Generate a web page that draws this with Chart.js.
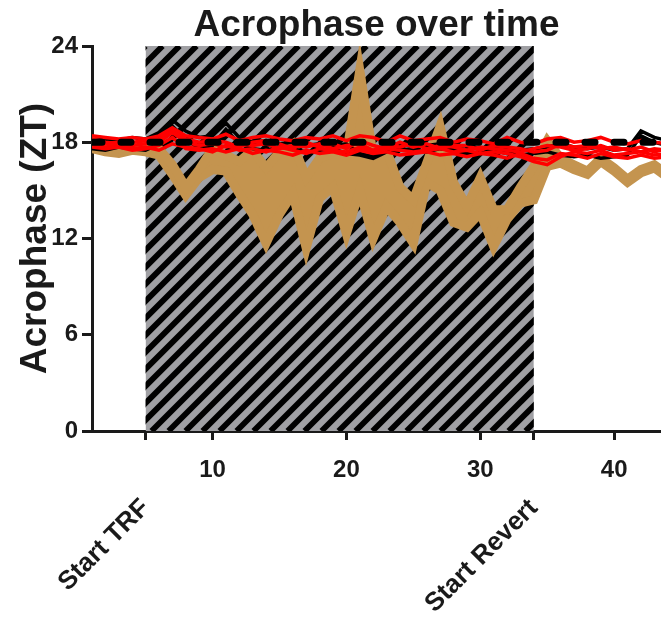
<!DOCTYPE html>
<html lang="en">
<head>
    <meta charset="UTF-8">
    <title>Acrophase over time</title>
    <script src="https://cdn.jsdelivr.net/npm/chart.js"></script>
    <style>
        body { margin: 0; background: #fff; }
        #wrap { width: 661px; height: 621px; }
    </style>
</head>
<body>
<div id="wrap">
    <canvas id="acrophase"></canvas>
</div>

<script>
    // days of the experiment
    const days = [1, 2, 3, 4, 5, 6, 7, 8, 9, 10, 11, 12, 13, 14, 15, 16, 17, 18, 19, 20, 21, 22,
        23, 24, 25, 26, 27, 28, 29, 30, 31, 32, 33, 34, 35, 36, 37, 38, 39, 40, 41, 42, 43, 44];

    // TRF group (tan), drawn as an upper and lower trace with the band between
    const tanUpper = [18.2, 17.9, 17.6, 17.8, 17.8, 17.6, 16.6, 15.2, 16.3, 17.6, 17.2, 16.8, 17.5, 16.4, 17.4,
        17.9, 15.8, 17.0, 17.3, 17.2, 22.5, 17.2, 17.5, 15.2, 14.4, 16.7, 19.0, 15.5, 14.0, 15.8, 13.8, 13.8,
        15.2, 16.5, 18.1, 17.0, 16.6, 16.2, 17.0, 16.4, 15.7, 16.3, 16.6, 16.0];
    const tanLower = [17.6, 17.4, 17.3, 17.5, 17.4, 17.2, 16.0, 14.7, 15.8, 16.3, 16.2, 14.8, 13.5, 11.7, 13.5,
        14.8, 11.4, 14.5, 15.2, 12.3, 15.0, 12.0, 14.0, 13.0, 11.7, 15.5, 15.0, 13.0, 12.7, 13.6, 11.5, 13.2,
        14.2, 14.4, 16.5, 16.7, 16.3, 16.0, 16.8, 16.2, 15.5, 16.1, 16.4, 15.8];

    // red group
    const red1 = [18.4, 18.3, 18.2, 18.3, 18.2, 18.4, 18.9, 18.4, 18.3, 18.2, 18.5, 18.1, 18.3, 18.4, 18.2,
        18.1, 18.3, 18.2, 18.4, 18.1, 18.4, 18.3, 18.0, 18.4, 18.1, 18.2, 18.3, 18.0, 18.2, 18.1, 17.9, 18.3,
        18.0, 17.9, 18.2, 18.3, 18.0, 18.1, 18.3, 18.0, 17.9, 18.1, 18.0, 17.9];
    const red2 = [18.0, 17.9, 18.0, 17.8, 17.9, 18.0, 18.6, 18.0, 17.8, 17.9, 17.7, 17.9, 17.8, 17.9, 17.6,
        17.8, 17.7, 17.9, 17.6, 17.8, 17.9, 17.5, 17.8, 17.7, 17.9, 17.6, 17.8, 17.7, 17.5, 17.7, 17.6, 17.5,
        17.4, 17.6, 17.8, 17.7, 17.5, 17.6, 17.8, 17.5, 17.6, 17.4, 17.6, 17.5];
    const red3 = [17.7, 17.6, 17.7, 17.5, 17.6, 17.8, 18.3, 17.6, 17.5, 17.6, 17.4, 17.6, 17.3, 17.5, 17.4,
        17.2, 17.5, 17.3, 17.4, 17.2, 17.5, 17.3, 17.4, 17.2, 17.3, 17.4, 17.2, 17.3, 17.1, 17.3, 17.2, 17.0,
        17.3, 17.0, 16.9, 17.3, 17.2, 17.0, 17.3, 17.1, 17.0, 17.2, 17.0, 17.1];
    const red4 = [17.9, 17.7, 17.8, 17.6, 17.7, 17.5, 17.9, 17.7, 17.6, 17.4, 17.8, 17.5, 17.6, 17.4, 17.7,
        17.5, 17.3, 17.6, 17.5, 17.4, 17.7, 17.4, 17.6, 17.5, 17.4, 17.5, 17.6, 17.4, 17.5, 17.3, 17.4, 17.3,
        17.1, 16.8, 16.6, 17.1, 17.4, 17.3, 17.5, 17.2, 17.3, 17.4, 17.2, 17.3];
    const red5 = [18.2, 18.0, 17.9, 18.0, 18.1, 18.2, 18.7, 18.2, 18.0, 18.1, 18.0, 17.7, 18.0, 18.1, 17.9,
        17.6, 18.0, 17.7, 17.9, 17.6, 18.1, 17.8, 17.6, 18.0, 17.7, 17.9, 17.6, 17.8, 17.8, 17.5, 17.8, 17.7,
        17.6, 17.4, 17.5, 17.9, 17.7, 17.8, 17.6, 17.7, 17.5, 17.7, 17.4, 17.6];

    // black group
    const black1 = [18.1, 18.2, 18.1, 18.3, 18.2, 18.6, 19.4, 18.7, 18.3, 18.4, 19.2, 18.3, 18.0, 18.1, 17.9,
        18.0, 17.8, 17.9, 17.8, 17.9, 17.3, 17.1, 17.8, 17.9, 17.7, 17.8, 17.9, 17.7, 17.8, 17.6, 17.7, 17.6,
        17.5, 17.6, 17.7, 17.9, 17.7, 17.6, 17.7, 17.5, 17.6, 18.7, 18.3, 18.1];
    const black2 = [17.6, 17.5, 17.7, 17.6, 17.5, 17.9, 19.0, 18.2, 17.6, 17.8, 18.8, 17.9, 17.6, 17.5, 17.7,
        17.6, 17.4, 17.5, 17.6, 17.3, 17.2, 17.0, 17.4, 17.6, 17.5, 17.4, 17.6, 17.5, 17.3, 17.4, 17.5, 17.3,
        17.2, 17.3, 17.4, 17.2, 17.1, 17.2, 17.0, 17.1, 17.2, 18.4, 18.0, 17.8];

    // ZT18 reference line
    const refDays = [1, 44];
    const refZT = [18, 18];

    // axis ticks / labels
    const yTicks = [0, 6, 12, 18, 24];
    const xTicks = [5, 10, 20, 30, 34, 40];
    const markerDays = [5, 34];
    const markerLabels = ['Start TRF', 'Start Revert'];

    const TAN = '#c4944f';
    const RED = '#ff0000';
    const INK = '#1a1a1a';
    const FONT = '"Liberation Sans", Arial, sans-serif';

    const pts = (xs, ys) => xs.map((d, i) => ({x: d, y: ys[i]}));

    function line(values, color, width) {
        return {
            data: pts(days, values),
            borderColor: color,
            borderWidth: width,
            pointRadius: 0,
            fill: false
        };
    }

    // grey hatched block for the TRF period
    const hatchPlugin = {
        id: 'hatch',
        beforeDatasetsDraw(chart) {
            const {ctx, scales: {x, y}} = chart;
            const left = x.getPixelForValue(markerDays[0]);
            const right = x.getPixelForValue(markerDays[1]);
            const top = y.getPixelForValue(24);
            const bottom = y.getPixelForValue(0);
            const h = bottom - top;
            ctx.save();
            ctx.beginPath();
            ctx.rect(left, top, right - left, h);
            ctx.clip();
            ctx.fillStyle = '#a0a0a4';
            ctx.fillRect(left, top, right - left, h);
            ctx.strokeStyle = '#000';
            ctx.lineWidth = 5.8;
            for (let s = left - h; s < right + 10; s += 17) {
                ctx.beginPath();
                ctx.moveTo(s, bottom);
                ctx.lineTo(s + h, top);
                ctx.stroke();
            }
            ctx.restore();
        }
    };

    const tanLowerSet = line(tanLower, TAN, 9);
    tanLowerSet.fill = '-1';
    tanLowerSet.backgroundColor = TAN;

    const refSet = {
        data: pts(refDays, refZT),
        borderColor: '#000',
        borderWidth: 7,
        borderDash: [10, 19],
        borderCapStyle: 'round',
        pointRadius: 0,
        fill: false
    };

    let elem = document.getElementById('acrophase').getContext('2d');
    let chart = new Chart(elem, {
        type: 'line',
        data: {
            // first dataset is drawn on top
            datasets: [
                refSet,
                line(red1, RED, 3.5),
                line(red5, RED, 3.5),
                line(red2, RED, 3.5),
                line(red4, RED, 3.5),
                line(red3, RED, 3.5),
                line(black1, '#000', 3.5),
                line(black2, '#000', 3.5),
                line(tanUpper, TAN, 9),
                tanLowerSet
            ]
        },
        options: {
            responsive: true,
            maintainAspectRatio: false,
            animation: false,
            layout: {padding: 0},
            plugins: {
                legend: {display: false},
                tooltip: {enabled: false},
                title: {
                    display: true,
                    text: 'Acrophase over time',
                    fullSize: false,
                    color: INK,
                    font: {family: FONT, size: 37, weight: 'bold', lineHeight: 1},
                    padding: {top: 7, bottom: 2}
                }
            },
            scales: {
                x: {
                    type: 'linear',
                    min: 1,
                    max: 43.5,
                    afterBuildTicks: s => { s.ticks = xTicks.map(v => ({value: v})); },
                    afterFit: s => { s.height = 62; },
                    ticks: {
                        autoSkip: false,
                        maxRotation: 0,
                        padding: 16,
                        color: INK,
                        font: {family: FONT, size: 24, weight: 'bold'},
                        callback: v => markerDays.includes(v) ? '' : String(v)
                    },
                    grid: {drawOnChartArea: false, tickLength: 9, lineWidth: 3, color: INK},
                    border: {color: INK, width: 3}
                },
                x2: {
                    type: 'linear',
                    position: 'bottom',
                    min: 1,
                    max: 43.5,
                    afterBuildTicks: s => { s.ticks = markerDays.map(v => ({value: v})); },
                    afterFit: s => { s.height = 128; },
                    ticks: {
                        autoSkip: false,
                        minRotation: 45,
                        maxRotation: 45,
                        padding: 0,
                        color: INK,
                        font: {family: FONT, size: 26, weight: 'bold'},
                        callback: v => markerLabels[markerDays.indexOf(v)]
                    },
                    grid: {display: false, drawTicks: false},
                    border: {display: false}
                },
                y: {
                    min: 0,
                    max: 24,
                    afterBuildTicks: s => { s.ticks = yTicks.map(v => ({value: v})); },
                    afterFit: s => { s.width = 92; },
                    ticks: {
                        padding: 4,
                        color: INK,
                        font: {family: FONT, size: 24, weight: 'bold'}
                    },
                    grid: {drawOnChartArea: false, tickLength: 10, lineWidth: 3, color: INK},
                    border: {color: INK, width: 3},
                    title: {
                        display: true,
                        text: 'Acrophase (ZT)',
                        color: INK,
                        font: {family: FONT, size: 37, weight: 'bold'},
                        padding: {top: 14, bottom: 0}
                    }
                }
            }
        },
        plugins: [hatchPlugin]
    });
</script>
</body>
</html>
